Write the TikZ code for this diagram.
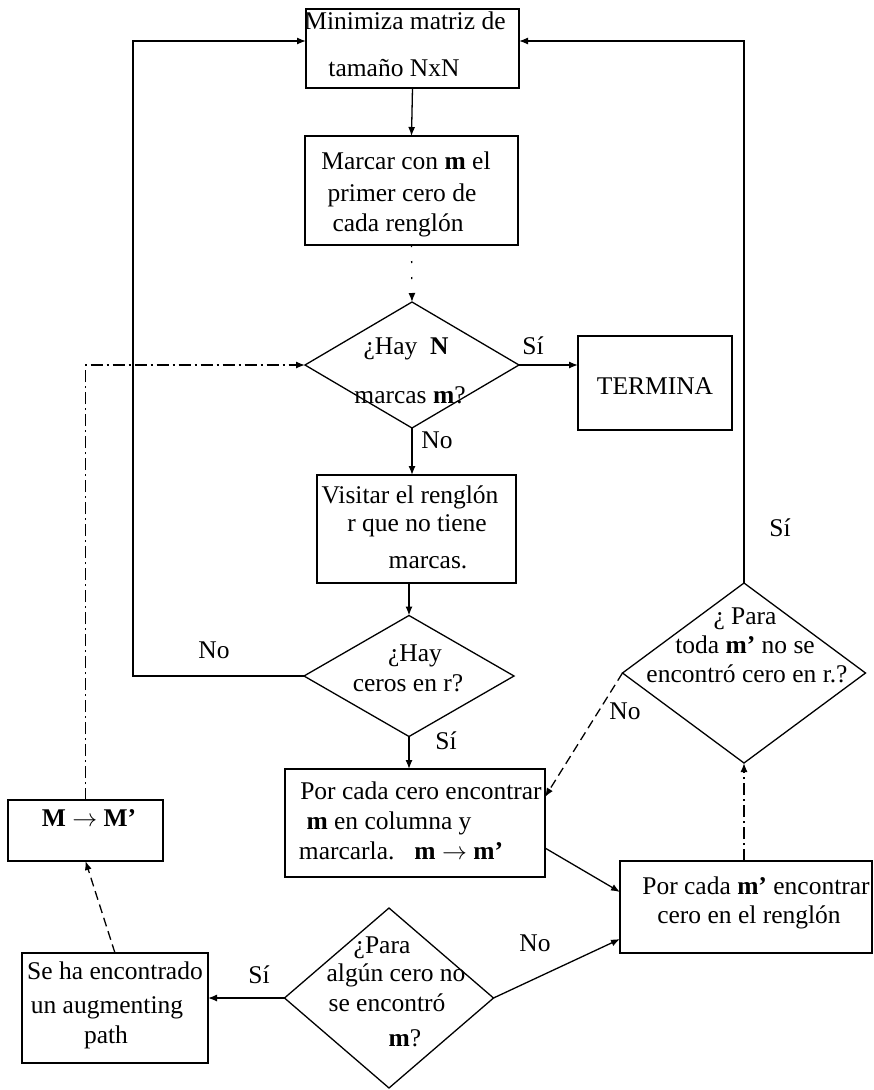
\documentclass[tikz,border=0pt]{standalone}
\usepackage{fontspec}
\setmainfont{Liberation Serif}
\usetikzlibrary{arrows.meta,shapes.geometric}
\begin{document}
\begin{tikzpicture}[x=1pt,y=-1pt,
  every node/.style={inner sep=0pt,outer sep=0pt},
  box/.style={draw,line width=1.3pt,rectangle},
  dia/.style={draw,line width=1.3pt,diamond},
  txt/.style={font=\fontsize{25.5}{30}\selectfont,text height=17pt,text depth=5pt},
  arr/.style={line width=1.3pt,-{Latex[length=9pt,width=7pt]}},
  dashdot/.style={dash pattern=on 12pt off 4pt on 2pt off 4pt},
  longdash/.style={dash pattern=on 9pt off 5pt},
  faint/.style={dash pattern=on 2pt off 14pt}]
\useasboundingbox (0,0) rectangle (874,1090);
% shapes
\node[box,minimum width=213pt,minimum height=79pt] (b1) at (412.5,48.5) {};
\node[box,minimum width=213pt,minimum height=109pt] (b2) at (411.5,190.5) {};
\node[dia,minimum width=214pt,minimum height=126pt] (d1) at (412,365) {};
\node[box,minimum width=154pt,minimum height=94pt] (term) at (655,383) {};
\node[box,minimum width=199pt,minimum height=108pt] (b3) at (416.5,529) {};
\node[dia,minimum width=210pt,minimum height=121pt] (d2) at (409,676) {};
\node[box,minimum width=260pt,minimum height=108pt] (b4) at (415,823) {};
\node[box,minimum width=252pt,minimum height=92pt] (b5) at (746,907) {};
\node[dia,minimum width=243pt,minimum height=180pt] (d4) at (744,673) {};
\node[dia,minimum width=209pt,minimum height=180pt] (d3) at (389,998) {};
\node[box,minimum width=186pt,minimum height=110pt] (b6) at (115,1008) {};
\node[box,minimum width=155pt,minimum height=61pt] (b7) at (85.5,830.5) {};
% texts
\node[txt] (t1a) at (405,23) {Minimiza matriz de};
\node[txt] (t1b) at (394,70) {tamaño NxN};
\node[txt] (t2a) at (406,163) {Marcar con \textbf{m} el};
\node[txt] (t2b) at (402,195) {primer cero de};
\node[txt] (t2c) at (398,225) {cada renglón};
\node[txt] (t3a) at (406,348) {¿Hay\ \ {\bfseries N}};
\node[txt] (t3b) at (410,397) {marcas \textbf{m}?};
\node[txt] (si1) at (533,348) {Sí};
\node[txt] (tterm) at (655,388) {TERMINA};
\node[txt] (no1) at (437,442) {No};
\node[txt] (t4a) at (410,497) {Visitar el renglón};
\node[txt] (t4b) at (417,525) {r que no tiene};
\node[txt] (t4c) at (428,562) {marcas.};
\node[txt] (t5a) at (415,655) {¿Hay};
\node[txt] (t5b) at (408,685) {ceros en r?};
\node[txt] (no2) at (214,652) {No};
\node[txt] (si2) at (446,743) {Sí};
\node[txt] (t6a) at (421,793) {Por cada cero encontrar};
\node[txt] (t6b) at (389,823) {\textbf{m} en columna y};
\node[txt] (t6c) at (401,853) {marcarla.\hspace{20pt}\textbf{m} $\rightarrow$ \textbf{m’}};
\node[txt] (t7a) at (756,888) {Por cada \textbf{m’} encontrar};
\node[txt] (t7b) at (749,917) {cero en el renglón};
\node[txt] (t8a) at (745,618) {¿ Para};
\node[txt] (t8b) at (745,647) {toda \textbf{m’} no se};
\node[txt] (t8c) at (747,676) {encontró cero en r.?};
\node[txt] (no3) at (625,713) {No};
\node[txt] (si3) at (780,530) {Sí};
\node[txt] (t9a) at (382,947) {¿Para};
\node[txt] (t9b) at (396,975) {algún cero no};
\node[txt] (t9c) at (387,1005) {se encontró};
\node[txt] (t9d) at (405,1040) {\textbf{m}?};
\node[txt] (no4) at (535,945) {No};
\node[txt] (si4) at (259,977) {Sí};
\node[txt] (t10a) at (115,973) {Se ha encontrado};
\node[txt] (t10b) at (107,1007) {un augmenting};
\node[txt] (t10c) at (106,1037) {path};
\node[txt] (t11) at (89,820) {\textbf{M $\rightarrow$ M’}};
% connectors
\coordinate (lt) at (133,41);
\draw[arr] (b1.south) -- (b2.north);
\draw[arr,faint] (b2.south) -- (d1.north);
\draw[arr] (d1.east) -- (d1.east -| term.west);
\draw[arr] (d1.south) -- (d1.south |- b3.north);
\draw[arr] (d2.north |- b3.south) -- (d2.north);
\draw[arr] (d2.west) -| (lt) -- (lt -| b1.west);
\draw[arr] (d2.south) -- (d2.south |- b4.north);
\draw[arr] ([yshift=-25pt]b4.east) -- ([yshift=15pt]b5.west);
\draw[arr,dashdot] (d4.south |- b5.north) -- (d4.south);
\draw[arr] (d4.north) |- ([yshift=7.5pt]b1.east);
\draw[arr,longdash] (d4.west) -- ([yshift=26pt]b4.east);
\draw[arr] (d3.east) -- ([yshift=-32pt]b5.west);
\draw[arr] (d3.west) -- (d3.west -| b6.east);
\draw[arr,longdash] (b6.north) -- (b7.south);
\draw[arr,dashdot] (b7.north) |- (d1.west);
\end{tikzpicture}
\end{document}
